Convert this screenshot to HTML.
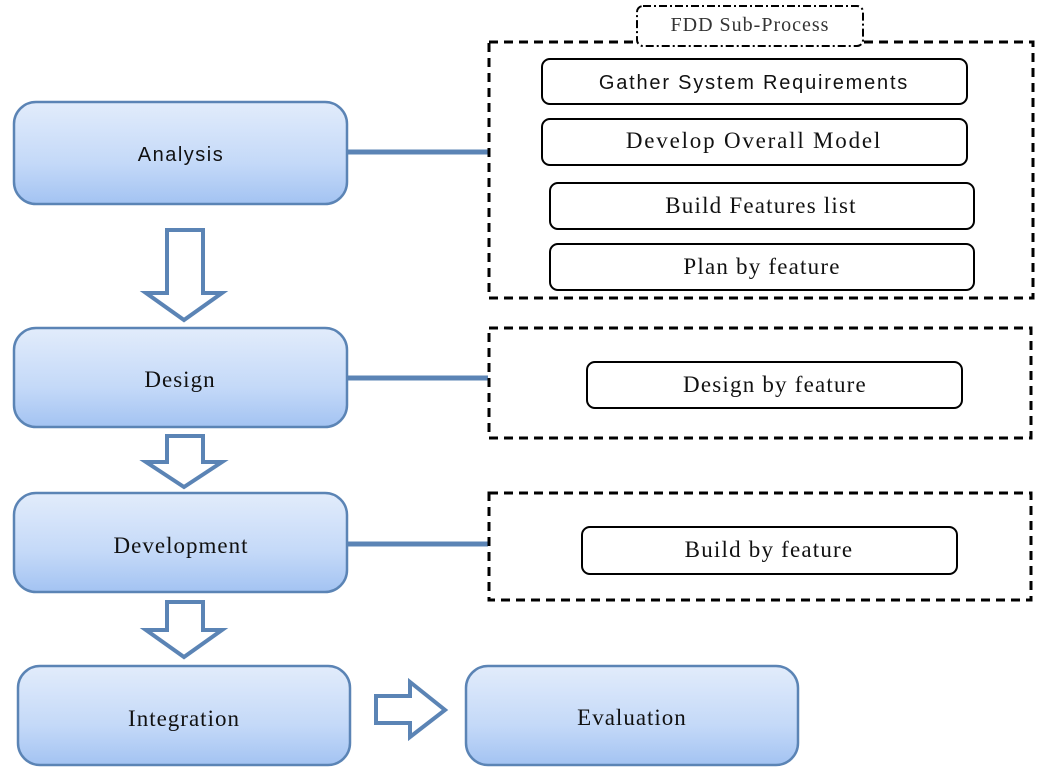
<!DOCTYPE html>
<html><head><meta charset="utf-8"><style>
html,body{margin:0;padding:0;background:#fff;}
svg{display:block;}
</style></head><body>
<svg width="1037" height="777" viewBox="0 0 1037 777" xmlns="http://www.w3.org/2000/svg">
<defs>
<linearGradient id="g" x1="0" y1="0" x2="0" y2="1">
<stop offset="0" stop-color="#e2ecfb"/><stop offset="0.6" stop-color="#c4d9f8"/><stop offset="1" stop-color="#a3c3f2"/>
</linearGradient>
</defs>
<g stroke="#5b84b5" stroke-width="2.5" fill="url(#g)">
<rect x="14" y="102" width="333" height="102" rx="22"/>
<rect x="14" y="328" width="333" height="99" rx="22"/>
<rect x="14" y="493" width="333" height="99" rx="22"/>
<rect x="18" y="666" width="332" height="99" rx="22"/>
<rect x="466" y="666" width="332" height="99" rx="22"/>
</g>
<g stroke="#5b84b5" stroke-width="5">
<line x1="347" y1="152" x2="488" y2="152"/>
<line x1="347" y1="378" x2="488" y2="378"/>
<line x1="347" y1="544" x2="488" y2="544"/>
</g>
<g stroke="#5b84b5" stroke-width="4" fill="#fff" stroke-linejoin="miter">
<polygon points="167,230 203,230 203,293 222,293 184,320 146,293 167,293"/>
<polygon points="167,436 203,436 203,462 222,462 184,487 146,462 167,462"/>
<polygon points="167,602 203,602 203,630 222,630 184,657 146,630 167,630"/>
<polygon points="376,696 410,696 410,682 445,710 410,737 410,723 376,723"/>
</g>
<g fill="none" stroke="#000" stroke-width="3" stroke-dasharray="9,6">
<rect x="489" y="42" width="544" height="256"/>
<rect x="489" y="328" width="542" height="110"/>
<rect x="489" y="493" width="542" height="107"/>
</g>
<rect x="637" y="6" width="226" height="40" rx="6" fill="#fff" stroke="#000" stroke-width="2" stroke-dasharray="8,3,2,3"/>
<g font-family="Liberation Sans, sans-serif" fill="#111" text-anchor="middle">
<text x="181" y="161" font-size="20" letter-spacing="1.5">Analysis</text>
<text x="754" y="89" font-size="20" letter-spacing="1.8">Gather System Requirements</text>
</g>
<g fill="#fff" stroke="#000" stroke-width="2">
<rect x="542" y="119" width="425" height="46" rx="8"/>
<rect x="550" y="183" width="424" height="46" rx="8"/>
<rect x="550" y="244" width="424" height="46" rx="8"/>
<rect x="587" y="362" width="375" height="46" rx="8"/>
<rect x="582" y="527" width="375" height="47" rx="8"/>
</g>
<rect x="542" y="59" width="425" height="45" rx="8" fill="none" stroke="#000" stroke-width="2"/>
<g font-family="Liberation Serif, serif" fill="#111" text-anchor="middle">
<text x="750" y="31" font-size="20" letter-spacing="1" fill="#333">FDD Sub-Process</text>
<text x="754" y="148" font-size="23" letter-spacing="1.8">Develop Overall Model</text>
<text x="761" y="213" font-size="23" letter-spacing="1.2">Build Features list</text>
<text x="762" y="274" font-size="23" letter-spacing="1.2">Plan by feature</text>
<text x="775" y="392" font-size="23" letter-spacing="1.2">Design by feature</text>
<text x="769" y="557" font-size="23" letter-spacing="1.2">Build by feature</text>
<text x="180" y="387" font-size="23" letter-spacing="1">Design</text>
<text x="181" y="553" font-size="23" letter-spacing="1">Development</text>
<text x="184" y="726" font-size="23" letter-spacing="1">Integration</text>
<text x="632" y="725" font-size="23" letter-spacing="1">Evaluation</text>
</g>
</svg>
</body></html>
